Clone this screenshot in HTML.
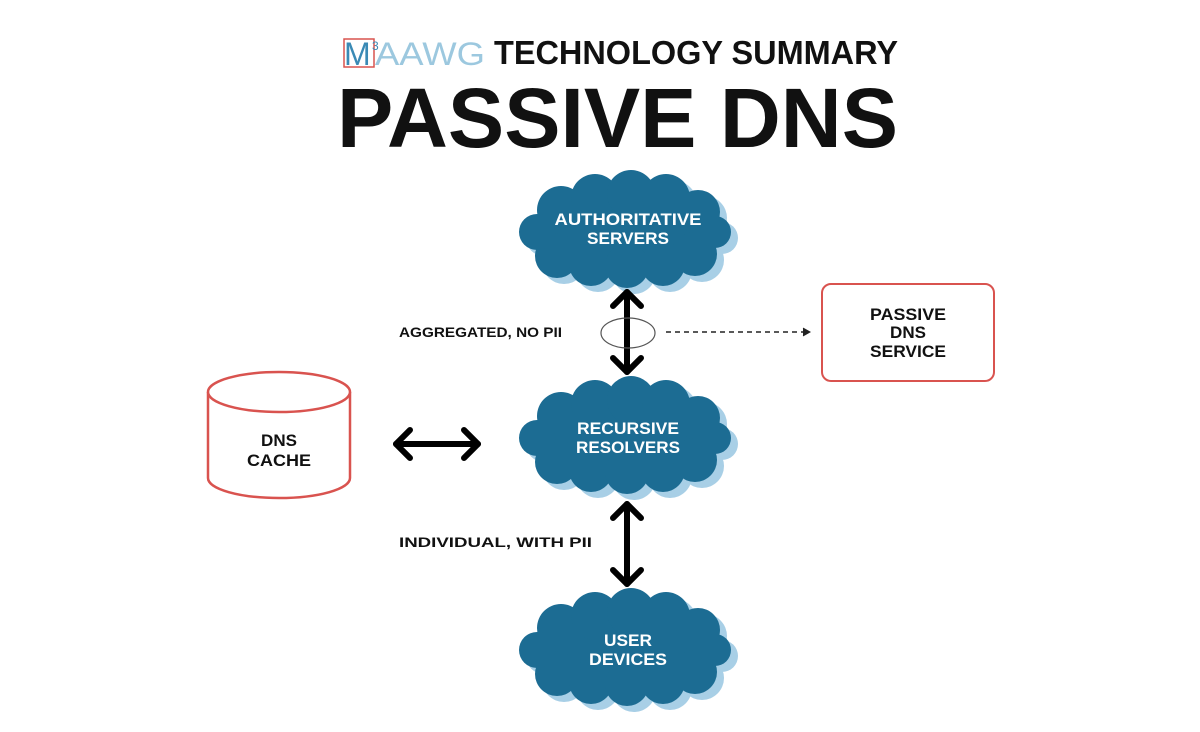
<!DOCTYPE html>
<html><head><meta charset="utf-8"><style>
html,body{margin:0;padding:0;background:#fff;}
svg{display:block;}
</style></head><body>
<svg width="1200" height="732" viewBox="0 0 1200 732" xmlns="http://www.w3.org/2000/svg" font-family="Liberation Sans, sans-serif">
<defs>
<g id="cl">
<ellipse cx="102" cy="60" rx="94" ry="44"/>
<circle cx="38" cy="38" r="24"/><circle cx="72" cy="26" r="24"/><circle cx="108" cy="22" r="24"/><circle cx="143" cy="26" r="24"/><circle cx="175" cy="40" r="22"/>
<circle cx="34" cy="84" r="22"/><circle cx="68" cy="92" r="22"/><circle cx="104" cy="94" r="22"/><circle cx="140" cy="92" r="22"/><circle cx="172" cy="82" r="22"/>
<circle cx="14" cy="60" r="18"/><circle cx="192" cy="60" r="16"/>
</g>
<g id="cloud"><use href="#cl" x="7" y="6" fill="#a8cfe6"/><use href="#cl" fill="#1c6c93"/></g>
</defs>

<!-- Logo -->
<rect x="344" y="39" width="30" height="28" fill="none" stroke="#d9534f" stroke-width="1.5"/>
<text x="344" y="65" font-size="32" fill="#3a8ab5">M</text>
<text x="372" y="50" font-size="12" fill="#3a8ab5">3</text>
<text x="375" y="65" font-size="32" fill="#9cc8df" textLength="110" lengthAdjust="spacingAndGlyphs">AAWG</text>
<text x="494" y="64" font-size="33" font-weight="bold" fill="#111" textLength="404" lengthAdjust="spacingAndGlyphs">TECHNOLOGY SUMMARY</text>
<text x="337" y="147" font-size="84" font-weight="bold" fill="#111" textLength="561" lengthAdjust="spacingAndGlyphs">PASSIVE DNS</text>

<!-- clouds -->
<use href="#cloud" x="523" y="172"/>
<use href="#cloud" x="523" y="378"/>
<use href="#cloud" x="523" y="590"/>
<g fill="#fff" font-weight="bold" font-size="17" text-anchor="middle" lengthAdjust="spacingAndGlyphs">
<text x="628" y="225" textLength="147" lengthAdjust="spacingAndGlyphs">AUTHORITATIVE</text><text x="628" y="244" textLength="82" lengthAdjust="spacingAndGlyphs">SERVERS</text>
<text x="628" y="434" textLength="102" lengthAdjust="spacingAndGlyphs">RECURSIVE</text><text x="628" y="453" textLength="104" lengthAdjust="spacingAndGlyphs">RESOLVERS</text>
<text x="628" y="646" textLength="48" lengthAdjust="spacingAndGlyphs">USER</text><text x="628" y="665" textLength="78" lengthAdjust="spacingAndGlyphs">DEVICES</text>
</g>

<!-- arrows -->
<g stroke="#000" stroke-width="6" fill="none" stroke-linecap="round" stroke-linejoin="round">
<line x1="627" y1="292" x2="627" y2="372"/>
<polyline points="613,306 627,292 641,306"/><polyline points="613,358 627,372 641,358"/>
<line x1="627" y1="504" x2="627" y2="584"/>
<polyline points="613,518 627,504 641,518"/><polyline points="613,570 627,584 641,570"/>
<line x1="396" y1="444" x2="478" y2="444"/>
<polyline points="410,430 396,444 410,458"/><polyline points="464,430 478,444 464,458"/>
</g>
<ellipse cx="628" cy="333" rx="27" ry="15" fill="none" stroke="#555" stroke-width="1.2"/>
<line x1="666" y1="332" x2="804" y2="332" stroke="#222" stroke-width="1.5" stroke-dasharray="5,4"/>
<polyline points="803,328 810,332 803,336" fill="#222" stroke="#222"/>

<!-- labels -->
<g font-weight="bold" font-size="14" fill="#111">
<text x="399" y="337" textLength="163" lengthAdjust="spacingAndGlyphs">AGGREGATED, NO PII</text>
<text x="399" y="547" textLength="193" lengthAdjust="spacingAndGlyphs">INDIVIDUAL, WITH PII</text>
</g>

<!-- service box -->
<rect x="822" y="284" width="172" height="97" rx="9" fill="#fff" stroke="#d9534f" stroke-width="2"/>
<g font-weight="bold" font-size="17" fill="#111" text-anchor="middle">
<text x="908" y="320" textLength="76" lengthAdjust="spacingAndGlyphs">PASSIVE</text><text x="908" y="338">DNS</text><text x="908" y="357" textLength="76" lengthAdjust="spacingAndGlyphs">SERVICE</text>
</g>

<!-- cylinder -->
<path d="M208,392 L208,478 A71,20 0 0 0 350,478 L350,392" fill="#fff" stroke="#d9534f" stroke-width="2.5"/>
<ellipse cx="279" cy="392" rx="71" ry="20" fill="#fff" stroke="#d9534f" stroke-width="2.5"/>
<g font-weight="bold" font-size="17" fill="#111" text-anchor="middle">
<text x="279" y="446">DNS</text><text x="279" y="466" textLength="64" lengthAdjust="spacingAndGlyphs">CACHE</text>
</g>
</svg>
</body></html>
